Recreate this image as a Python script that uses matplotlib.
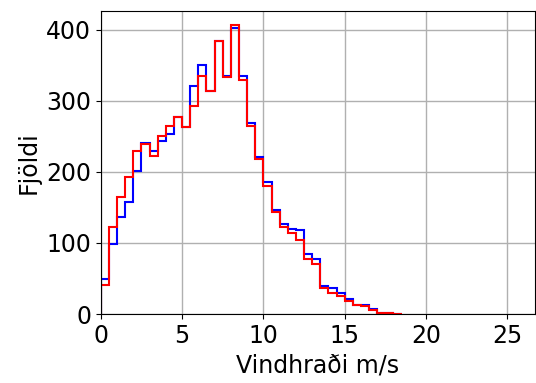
import numpy as np
import matplotlib
matplotlib.use('Agg')
import matplotlib.pyplot as plt

# histogram counts per 0.5 m/s bin
bin_edges = np.arange(0, 18.51, 0.5)
blue_counts = [49, 98, 136, 157, 201, 240, 229, 244, 253, 277, 263, 321, 350,
               313, 384, 335, 402, 335, 268, 221, 186, 147, 126, 119, 118, 84,
               78, 39, 36, 29, 21, 13, 13, 7, 2, 1, 0]
red_counts = [41, 122, 165, 193, 229, 239, 222, 250, 264, 277, 263, 292, 335,
              313, 384, 333, 406, 329, 264, 218, 180, 143, 122, 114, 104, 78,
              71, 36, 29, 25, 18, 13, 12, 6, 2, 1, 0]

fig, ax = plt.subplots(figsize=(5.36, 3.83), dpi=100)
fig.subplots_adjust(left=0.188, right=0.998, bottom=0.18, top=0.971)

ax.stairs(blue_counts, bin_edges, color='blue', linewidth=1.5, baseline=0)
ax.stairs(red_counts, bin_edges, color='red', linewidth=1.5, baseline=0)

ax.set_xlim(0, 26.7)
ax.set_ylim(0, 426)
ax.set_xticks([0, 5, 10, 15, 20, 25])
ax.set_yticks([0, 100, 200, 300, 400])
ax.tick_params(labelsize=17)
ax.set_xlabel('Vindhraði m/s', fontsize=17)
ax.set_ylabel('Fjöldi', fontsize=17)
ax.grid(True, color='#b0b0b0', linewidth=1)
ax.set_axisbelow(True)

plt.savefig('out.png')
plt.close()
